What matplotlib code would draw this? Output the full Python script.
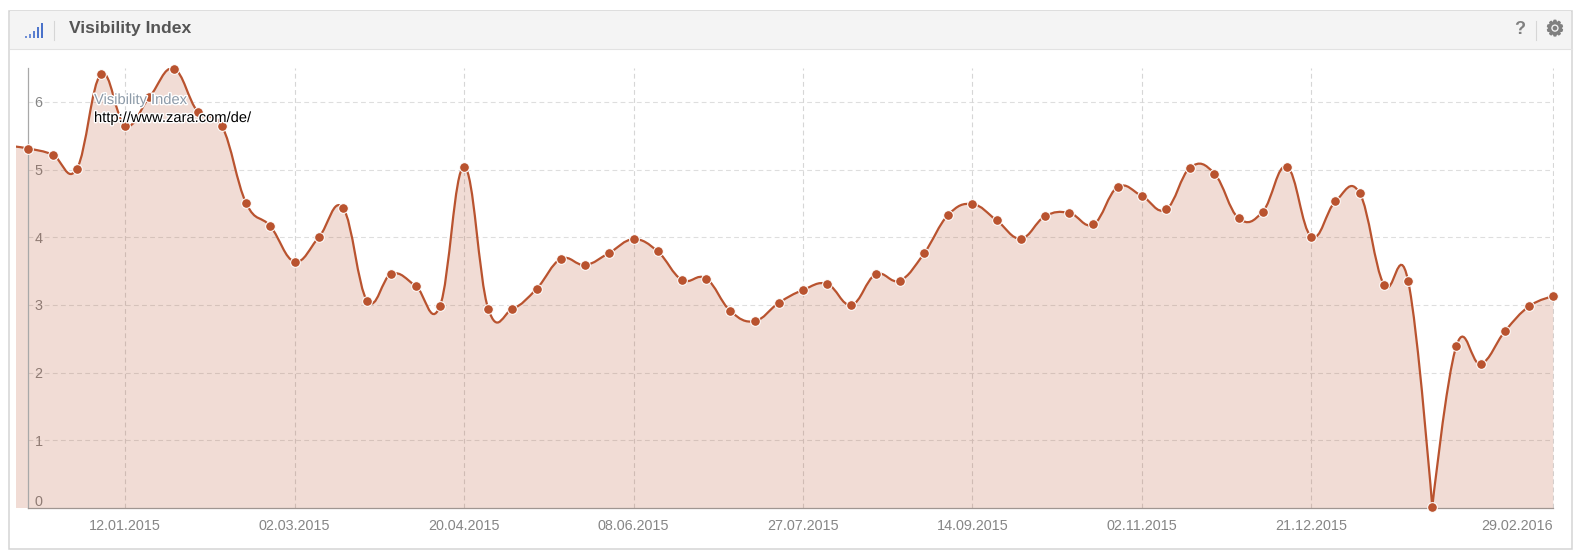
import numpy as np
import pandas as pd
import matplotlib
matplotlib.use('Agg')
import matplotlib.pyplot as plt
import matplotlib.dates as mdates
import matplotlib.patheffects as pe
from matplotlib.path import Path
from matplotlib.patches import PathPatch, Rectangle
from matplotlib.transforms import ScaledTranslation

plt.rcParams['font.family'] = ['Liberation Sans', 'DejaVu Sans']

# weekly values, first one sits left of the y axis
dates = pd.date_range('2014-12-08', '2016-02-29', freq='7D')
values = [5.36, 5.31, 5.22, 5.01, 6.41, 5.65, 6.07, 6.49, 5.85, 5.64, 4.50, 4.16, 3.64,
          4.00, 4.43, 3.06, 3.46, 3.28, 2.98, 5.04, 2.94, 2.94, 3.24, 3.68, 3.59,
          3.77, 3.97, 3.79, 3.37, 3.39, 2.91, 2.76, 3.03, 3.22, 3.31, 3.00, 3.45,
          3.36, 3.76, 4.33, 4.49, 4.25, 3.98, 4.31, 4.36, 4.19, 4.74, 4.61, 4.41,
          5.03, 4.94, 4.28, 4.38, 5.04, 4.01, 4.53, 4.65, 3.30, 3.36, 0.01, 2.40,
          2.13, 2.61, 2.98, 3.13]
tick_dates = ['2015-01-12', '2015-03-02', '2015-04-20', '2015-06-08', '2015-07-27',
              '2015-09-14', '2015-11-02', '2015-12-21', '2016-02-29']
tick_labels = ['12.01.2015', '02.03.2015', '20.04.2015', '08.06.2015', '27.07.2015',
               '14.09.2015', '02.11.2015', '21.12.2015', '29.02.2016']
y_ticks = [0, 1, 2, 3, 4, 5, 6]

W, H = 1583, 560
LINE = '#b9532f'


# same bezier spline as the web chart, overshoots are left in
def spline_segments(xs, ys, smoothing=1.5):
    denom = smoothing + 1
    verts = [(xs[0], ys[0])]
    codes = [Path.MOVETO]
    right = (xs[0], ys[0])
    for i in range(1, len(xs)):
        x, y = xs[i], ys[i]
        if i < len(xs) - 1:
            lx, ly = xs[i - 1], ys[i - 1]
            nx, ny = xs[i + 1], ys[i + 1]
            lcx = (smoothing * x + lx) / denom
            lcy = (smoothing * y + ly) / denom
            rcx = (smoothing * x + nx) / denom
            rcy = (smoothing * y + ny) / denom
            corr = (rcy - lcy) * (rcx - x) / (rcx - lcx) + y - rcy
            lcy += corr
            rcy += corr
            # the drop to zero is a sharp corner on the axis
            if min(lcy, rcy) < 0:
                lcx, lcy = x, y
                rcx, rcy = x, y
        else:
            lcx, lcy = x, y
            rcx, rcy = x, y
        verts += [right, (lcx, lcy), (x, y)]
        codes += [Path.CURVE4] * 3
        right = (rcx, rcy)
    return verts, codes


fig = plt.figure(figsize=(W / 100, H / 100), dpi=100, facecolor='white')

# card frame and header, in pixels
bg = fig.add_axes([0, 0, 1, 1])
bg.set_xlim(0, W)
bg.set_ylim(H, 0)
bg.axis('off')
bg.add_patch(Rectangle((9.5, 10.5), 1562.5, 538, fc='white', ec='#d4d4d4', lw=1.1))
bg.add_patch(Rectangle((10, 11), 1561.5, 38, fc='#f4f4f4', ec='none'))
bg.plot([10, 1572], [49, 49], color='#e2e2e2', lw=0.8)
bg.plot([54.5, 54.5], [21, 40], color='#d6d6d6', lw=0.8)
bg.plot([1536.5, 1536.5], [21, 40], color='#d6d6d6', lw=0.8)
for bx, bh, col in zip([25.5, 29.5, 33.5, 37.5, 41.5], [2, 4, 7, 11, 15],
                       ['#6f8fd6', '#6f8fd6', '#5b80d0', '#4f76cc', '#4a72ca']):
    bg.add_patch(Rectangle((bx, 38 - bh), 2, bh, fc=col, ec='none'))
bg.text(69, 29, 'Visibility Index', fontsize=12.6, fontweight='bold', color='#555555',
        va='center', ha='left')
bg.text(1520, 30, '?', fontsize=13, fontweight='bold', color='#808080', va='center', ha='center')
bg.text(1555, 29.5, '\u2699', fontsize=15, color='#808080', va='center', ha='center',
        family='DejaVu Sans', path_effects=[pe.withStroke(linewidth=1.1, foreground='#808080')])

# chart area runs from x=16 to x=1553.5, y=68 to y=508
ax = fig.add_axes([16 / W, 1 - 508 / H, (1553.5 - 16) / W, 440 / H])
ax.patch.set_alpha(0)

xs = mdates.date2num(dates)
ys = np.array(values)
ticks_x = mdates.date2num(pd.to_datetime(tick_dates))
px_per_day = (1553.3 - 28.4) / (xs[-1] - xs[1])
ax.set_xlim(xs[1] - 12.4 / px_per_day, xs[-1] + 0.2 / px_per_day)
ax.set_ylim(0, 6.5)

dash = (0, (4.3, 3))
ax.hlines(y_ticks[1:], xs[1], xs[-1], color='#dedede', lw=0.8, linestyles=[dash], zorder=1)
ax.vlines(ticks_x, 0, 6.5, color='#d6d6d6', lw=0.8, linestyles=[dash], zorder=1)

verts, codes = spline_segments(xs, ys)
fill_verts = verts + [(xs[-1], 0), (xs[0], 0), (xs[0], ys[0])]
fill_codes = codes + [Path.LINETO, Path.LINETO, Path.CLOSEPOLY]
ax.add_patch(PathPatch(Path(fill_verts, fill_codes), fc=LINE, alpha=0.2, ec='none', zorder=2))
ax.add_patch(PathPatch(Path(verts, codes), fc='none', ec=LINE, lw=1.6, zorder=3))
ax.plot(xs[1:], ys[1:], 'o', ms=7, mfc=LINE, mec='white', mew=0.75, zorder=4, clip_on=False)

for name in ['top', 'right']:
    ax.spines[name].set_visible(False)
ax.spines['left'].set_position(('data', xs[1]))
ax.spines['left'].set_color('#a8a8a8')
ax.spines['left'].set_linewidth(0.9)
ax.spines['bottom'].set_color('#a09692')
ax.spines['bottom'].set_linewidth(0.9)
ax.spines['bottom'].set_bounds(xs[1], xs[-1])

ax.set_xticks(ticks_x, tick_labels)
ax.set_yticks(y_ticks)
ax.tick_params(axis='x', length=0, pad=7.8, labelsize=10.4, labelcolor='#868686')
ax.tick_params(axis='y', length=0, pad=-4.5, labelsize=10.4, labelcolor='#868686')
for lab in ax.get_yticklabels():
    lab.set_ha('left')
zero = ax.get_yticklabels()[0]
zero.set_transform(zero.get_transform() + ScaledTranslation(0, 8 / 100, fig.dpi_scale_trans))
ax.get_xticklabels()[-1].set_ha('right')

# legend text on top of the series
halo = [pe.withStroke(linewidth=2, foreground='white')]
fg = fig.add_axes([0, 0, 1, 1])
fg.set_xlim(0, W)
fg.set_ylim(H, 0)
fg.axis('off')
fg.text(94, 100, 'Visibility Index', fontsize=10.6, color='#8c9aa8', va='center', ha='left',
        path_effects=halo)
fg.text(94, 118, 'http://www.zara.com/de/', fontsize=10.6, color='black', va='center',
        ha='left', path_effects=halo)

fig.savefig('out.png', dpi=100)
